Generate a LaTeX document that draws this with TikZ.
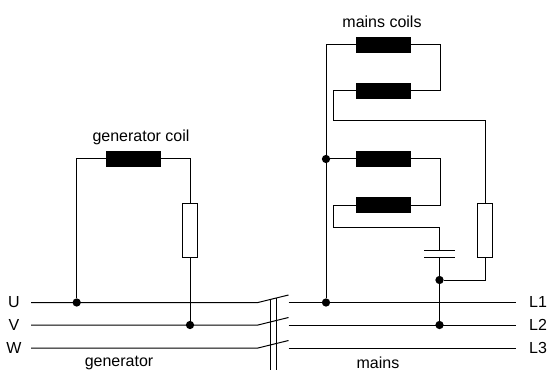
\documentclass[tikz,border=0pt]{standalone}
\usepackage{fontspec}
\setmainfont{Liberation Sans}
\begin{document}
\begin{tikzpicture}[x=0.75pt,y=-0.75pt,line width=0.75pt,
  coil/.style={draw=black,fill=black,minimum width=40.5pt,minimum height=11.6pt,inner sep=0pt,outer sep=0pt},
  res/.style={draw=black,fill=white,minimum width=11.4pt,minimum height=39.8pt,inner sep=0pt,outer sep=0pt},
  dot/.style={circle,fill=black,minimum size=6.2pt,inner sep=0pt,outer sep=0pt},
  lbl/.style={inner sep=0pt,font=\fontsize{12}{14}\selectfont},
  plate/.style={minimum width=23pt,minimum height=0pt,inner sep=0pt,outer sep=0pt}]
\useasboundingbox (0,0) rectangle (548,370);
% nodes
\node[coil] (c1) at (383,45) {};
\node[coil] (c2) at (383,91) {};
\node[coil] (c3) at (383,159) {};
\node[coil] (c4) at (383,205) {};
\node[coil] (g) at (133.5,159) {};
\node[res] (rg) at (190,230.5) {};
\node[res] (rm) at (485,230.5) {};
\node[plate] (p1) at (439.5,250) {};
\node[plate] (p2) at (439.5,257) {};
\node[dot] (d1) at (76.7,302.5) {};
\node[dot] (d2) at (190,325) {};
\node[dot] (d3) at (326,302.5) {};
\node[dot] (d4) at (439.5,325) {};
\node[dot] (d5) at (439.5,280) {};
\node[dot] (d6) at (326,159) {};
% line ends
\coordinate (ul) at (31,302.5);
\coordinate (vl) at (31,325);
\coordinate (wl) at (31,348);
\coordinate (ua) at (258,302.5);
\coordinate (va) at (258,325);
\coordinate (wa) at (258,348);
\coordinate (ub) at (288.5,295);
\coordinate (vb) at (288.5,317.5);
\coordinate (wb) at (288.5,340.5);
\coordinate (ur) at (288.5,302.5);
\coordinate (vr) at (288.5,325);
\coordinate (wr) at (288.5,348);
\coordinate (ue) at (516,302.5);
\coordinate (ve) at (516,325);
\coordinate (we) at (516,348);
\coordinate (m1) at (270.7,299.5);
\coordinate (m2) at (276.7,298);
\coordinate (n1) at (270.7,370);
\coordinate (n2) at (276.7,370);
\coordinate (b1) at (440,45);
\coordinate (b2) at (440,91);
\coordinate (b3) at (333.7,91);
\coordinate (b4) at (333.7,121);
\coordinate (b5) at (485,121);
\coordinate (e1) at (440,159);
\coordinate (e2) at (440,205);
\coordinate (e3) at (333.7,205);
\coordinate (e4) at (333.7,227);
\coordinate (e5) at (439.5,227);
% bus lines and switch
\draw (ul) -- (ua) -- (ub);
\draw (vl) -- (va) -- (vb);
\draw (wl) -- (wa) -- (wb);
\draw (ur) -- (ue);
\draw (vr) -- (ve);
\draw (wr) -- (we);
\draw (m1) -- (n1);
\draw (m2) -- (n2);
% generator branch
\draw (d1) |- (g.west);
\draw (g.east) -| (rg.north);
\draw (rg.south) -- (d2);
% mains branch
\draw (d3) |- (c1.west);
\draw (c1.east) -- (b1) -- (b2) -- (c2.east);
\draw (c2.west) -- (b3) -- (b4) -- (b5) -- (rm.north);
\draw (d6) -- (c3.west);
\draw (c3.east) -- (e1) -- (e2) -- (c4.east);
\draw (c4.west) -- (e3) -- (e4) -- (e5) -- (p1.center);
\draw (p1.west) -- (p1.east);
\draw (p2.west) -- (p2.east);
\draw (p2.center) -- (d4);
\draw (rm.south) |- (d5);
% labels
\node[lbl] (tg) at (141,137) {generator coil};
\node[lbl] (tm) at (382,22) {mains coils};
\node[lbl] (tu) at (14,302) {U};
\node[lbl] (tv) at (14,325) {V};
\node[lbl] (tw) at (14,348) {W};
\node[lbl] (t1) at (538,302) {L1};
\node[lbl] (t2) at (538,325) {L2};
\node[lbl] (t3) at (538,348) {L3};
\node[lbl] (tgen) at (119,363) {generator};
\node[lbl] (tmn) at (378,362.5) {mains};
\end{tikzpicture}
\end{document}
